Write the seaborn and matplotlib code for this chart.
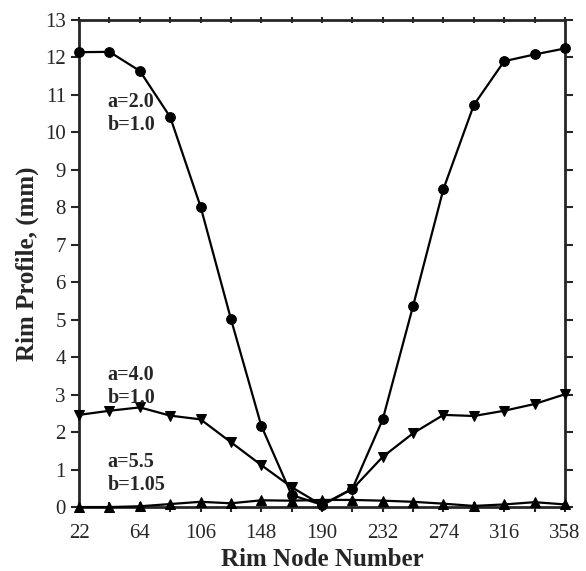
import pandas as pd
import matplotlib
matplotlib.use("Agg")
import matplotlib.pyplot as plt
import seaborn as sns

sns.set_style("ticks")
plt.rcParams['font.family'] = ['Liberation Serif', 'DejaVu Serif']

# --- DATA ---
nodes = [22, 43, 64, 85, 106, 127, 148, 169, 190, 211, 232, 253, 274, 295, 316, 337, 358]
rim_a20 = [12.14, 12.15, 11.64, 10.41, 8.02, 5.02, 2.17, 0.32, 0.06, 0.49, 2.34, 5.37, 8.49, 10.73, 11.9, 12.08, 12.24]
rim_a40 = [2.46, 2.57, 2.66, 2.44, 2.34, 1.73, 1.12, 0.53, 0.05, 0.48, 1.34, 1.97, 2.46, 2.43, 2.57, 2.75, 3.01]
rim_a55 = [0.0, 0.0, 0.02, 0.08, 0.14, 0.1, 0.18, 0.17, 0.19, 0.19, 0.17, 0.14, 0.09, 0.03, 0.07, 0.13, 0.07]
xticks = [22, 64, 106, 148, 190, 232, 274, 316, 358]

df = pd.DataFrame({
    "node": nodes * 3,
    "profile": rim_a20 + rim_a40 + rim_a55,
    "case": ["a20"] * 17 + ["a40"] * 17 + ["a55"] * 17,
})

fig = plt.figure(figsize=(5.86, 5.71), dpi=100)
ax = fig.add_axes([0.135, 0.112, 0.829, 0.853])

markers = {"a20": "o", "a40": "v", "a55": "^"}
sizes = {"a20": 7, "a40": 6.5, "a55": 6.5}
for case, m in markers.items():
    sub = df[df["case"] == case]
    sns.lineplot(data=sub, x="node", y="profile", ax=ax, color="black", lw=1.6,
                 marker=m, markersize=sizes[case], markeredgecolor="black",
                 clip_on=False, zorder=3, legend=False)

ax.set_xlim(22, 358)
ax.set_ylim(0, 13)
ax.set_xticks(xticks)
ax.set_xticks(nodes, minor=True)
ax.set_yticks(range(0, 14))

ax.tick_params(axis="x", which="both", direction="inout", length=7, width=1.5,
               top=True, labelsize=15, pad=9)
ax.tick_params(axis="y", which="both", direction="out", length=6, width=1.5,
               right=True, labelsize=15)
for t in ax.xaxis.get_major_ticks() + ax.xaxis.get_minor_ticks():
    t.tick2line.set_markersize(5)
for sp in ax.spines.values():
    sp.set_linewidth(2)

ax.set_xlabel("Rim Node Number", fontsize=18, fontweight="bold", labelpad=3)
ax.set_ylabel("Rim Profile, (mm)", fontsize=18, fontweight="bold", labelpad=4)

ax.text(41.5, 10.5, "a=2.0\nb=1.0", fontsize=14.5, fontweight="bold", va="center", linespacing=1.2)
ax.text(41.5, 3.23, "a=4.0\nb=1.0", fontsize=14.5, fontweight="bold", va="center", linespacing=1.2)
ax.text(41.5, 0.89, "a=5.5\nb=1.05", fontsize=14.5, fontweight="bold", va="center", linespacing=1.2)

fig.savefig("out.png", dpi=100)
